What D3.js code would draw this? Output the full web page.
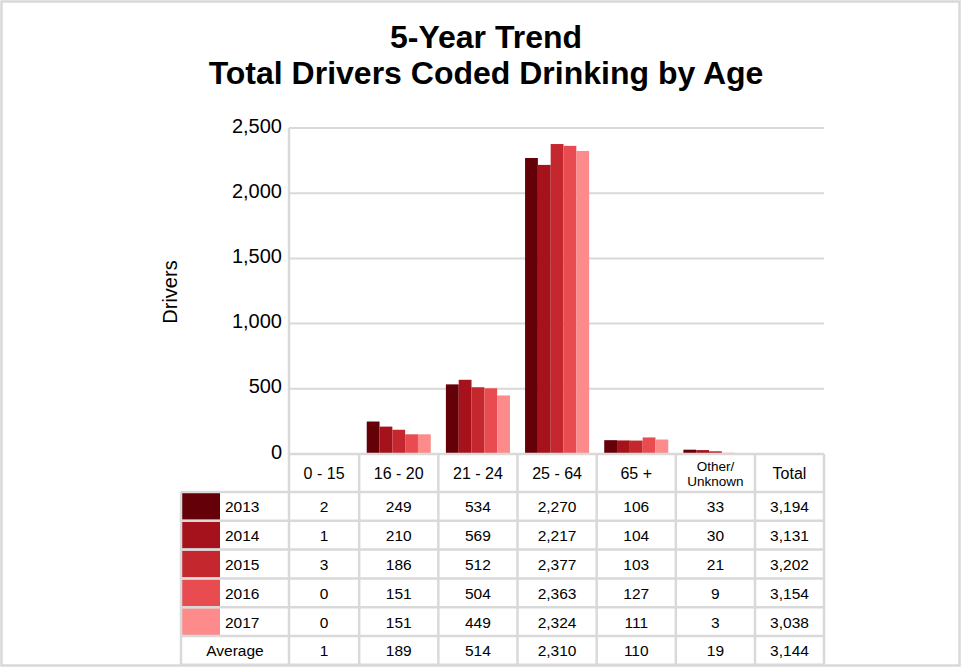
<!DOCTYPE html>
<html lang="en">
  <head>
    <meta charset="UTF-8" />
    <title>5-Year Trend</title>
    <script src="https://cdn.jsdelivr.net/npm/d3@7"></script>
    <style>
      body {
        margin: 0;
        background: #fff;
        font-family: "Liberation Sans", Arial, sans-serif;
      }
    </style>
  </head>
  <body>
    <script>
      const width = 961;
      const height = 667;

      const categories = ["0 - 15", "16 - 20", "21 - 24", "25 - 64", "65 +", "Other/Unknown"];
      const years = ["2013", "2014", "2015", "2016", "2017"];
      const values2013 = [2, 249, 534, 2270, 106, 33];
      const values2014 = [1, 210, 569, 2217, 104, 30];
      const values2015 = [3, 186, 512, 2377, 103, 21];
      const values2016 = [0, 151, 504, 2363, 127, 9];
      const values2017 = [0, 151, 449, 2324, 111, 3];
      const totals = [3194, 3131, 3202, 3154, 3038];
      const averages = [1, 189, 514, 2310, 110, 19];
      const averageTotal = 3144;
      const yTicks = [0, 500, 1000, 1500, 2000, 2500];
      const colors = ["#640007", "#a5121c", "#c5272e", "#e84c50", "#fd8b8b"];

      const series = [values2013, values2014, values2015, values2016, values2017].map((values, i) => ({
        year: years[i],
        values,
        total: totals[i],
        color: colors[i],
      }));

      const gridColor = "#d9d9d9";
      const fmt = d3.format(",");

      const svg = d3
        .select("body")
        .append("svg")
        .attr("width", width)
        .attr("height", height);

      // outer frame
      svg
        .append("rect")
        .attr("x", 1.5)
        .attr("y", 1.5)
        .attr("width", width - 3)
        .attr("height", height - 3)
        .attr("fill", "#fff")
        .attr("stroke", gridColor)
        .attr("stroke-width", 2.5);

      // title
      const title = svg
        .append("text")
        .attr("text-anchor", "middle")
        .attr("font-size", 32)
        .attr("font-weight", "bold")
        .attr("fill", "#000");
      title.append("tspan").attr("x", 486).attr("y", 48).text("5-Year Trend");
      title.append("tspan").attr("x", 486).attr("y", 84).text("Total Drivers Coded Drinking by Age");

      const plotLeft = 289;
      const plotRight = 824;
      const x = d3.scaleBand().domain(categories).range([280, 755]).paddingInner(0);
      const xYear = d3.scaleBand().domain(years).range([0, x.bandwidth()]).paddingOuter(0.59);
      const y = d3.scaleLinear().domain([0, 2500]).range([454, 128]);

      // gridlines
      svg
        .append("g")
        .selectAll("line")
        .data(yTicks)
        .join("line")
        .attr("x1", plotLeft)
        .attr("x2", plotRight)
        .attr("y1", (d) => y(d))
        .attr("y2", (d) => y(d))
        .attr("stroke", gridColor)
        .attr("stroke-width", 2);

      // y axis labels
      const yAxis = svg
        .append("g")
        .attr("transform", `translate(${plotLeft - 7},0)`)
        .call(d3.axisLeft(y).tickValues(yTicks).tickFormat(fmt).tickSize(0).tickPadding(0));
      yAxis.select(".domain").remove();
      yAxis
        .selectAll("text")
        .attr("font-family", "Liberation Sans, Arial, sans-serif")
        .attr("font-size", 20)
        .attr("fill", "#000")
        .attr("dy", "0.2em");

      svg
        .append("text")
        .attr("transform", "translate(177,292) rotate(-90)")
        .attr("text-anchor", "middle")
        .attr("font-size", 20)
        .attr("fill", "#000")
        .text("Drivers");

      // bars
      const groups = svg
        .append("g")
        .selectAll("g")
        .data(series)
        .join("g")
        .attr("fill", (d) => d.color);
      groups
        .selectAll("rect")
        .data((s) => s.values.map((v, j) => ({ year: s.year, cat: categories[j], v })))
        .join("rect")
        .attr("x", (d) => x(d.cat) + xYear(d.year))
        .attr("width", xYear.bandwidth())
        .attr("y", (d) => y(d.v))
        .attr("height", (d) => y(0) - y(d.v));

      // data table
      const headerTop = 454;
      const rowTop = 492;
      const rowH = 28.8;
      const rowCount = years.length + 1;
      const tableBottom = rowTop + rowCount * rowH;
      const legendLeft = 181;
      const colEdges = [plotLeft, ...categories.slice(1).map((c) => x(c)), 755, plotRight];
      const cols = categories.concat(["Total"]).map((c, i) => ({
        name: c,
        x0: colEdges[i],
        x1: colEdges[i + 1],
        cx: (colEdges[i] + colEdges[i + 1]) / 2,
      }));

      const table = svg.append("g");

      // legend swatches
      table
        .selectAll("rect.swatch")
        .data(series)
        .join("rect")
        .attr("class", "swatch")
        .attr("x", legendLeft + 1)
        .attr("y", (d, i) => rowTop + i * rowH + 1)
        .attr("width", 38)
        .attr("height", rowH - 2)
        .attr("fill", (d) => d.color);

      // horizontal rules
      const hRules = [{ y: headerTop, x0: plotLeft }, { y: rowTop, x0: legendLeft }];
      for (let i = 1; i <= rowCount; i++) hRules.push({ y: rowTop + i * rowH, x0: legendLeft });
      table
        .selectAll("line.h")
        .data(hRules)
        .join("line")
        .attr("class", "h")
        .attr("x1", (d) => d.x0)
        .attr("x2", plotRight)
        .attr("y1", (d) => d.y)
        .attr("y2", (d) => d.y)
        .attr("stroke", gridColor)
        .attr("stroke-width", 2.5);

      // vertical rules
      const vRules = [{ x: legendLeft, y0: rowTop }, { x: plotLeft, y0: y(2500) }];
      colEdges.slice(1).forEach((e) => vRules.push({ x: e, y0: headerTop }));
      table
        .selectAll("line.v")
        .data(vRules)
        .join("line")
        .attr("class", "v")
        .attr("x1", (d) => d.x)
        .attr("x2", (d) => d.x)
        .attr("y1", (d) => d.y0)
        .attr("y2", tableBottom)
        .attr("stroke", gridColor)
        .attr("stroke-width", 2.5);

      // header labels
      const header = table
        .selectAll("text.head")
        .data(cols)
        .join("text")
        .attr("class", "head")
        .attr("text-anchor", "middle")
        .attr("fill", "#000");
      header
        .filter((d) => d.name !== "Other/Unknown")
        .attr("x", (d) => d.cx)
        .attr("y", headerTop + 25)
        .attr("font-size", 16)
        .text((d) => d.name);
      const other = header.filter((d) => d.name === "Other/Unknown").attr("font-size", 13.5);
      other.append("tspan").attr("x", (d) => d.cx).attr("y", headerTop + 17).text("Other/");
      other.append("tspan").attr("x", (d) => d.cx).attr("y", headerTop + 32).text("Unknown");

      // year rows
      series.forEach((s, i) => {
        const ty = rowTop + i * rowH + rowH / 2 + 6;
        table
          .append("text")
          .attr("x", 225)
          .attr("y", ty)
          .attr("font-size", 15.5)
          .attr("fill", "#000")
          .text(s.year);
        table
          .selectAll(null)
          .data(s.values.concat([s.total]))
          .join("text")
          .attr("x", (d, j) => cols[j].cx)
          .attr("y", ty)
          .attr("text-anchor", "middle")
          .attr("font-size", 15.5)
          .attr("fill", "#000")
          .text((d) => fmt(d));
      });

      // average row
      const ay = rowTop + years.length * rowH + rowH / 2 + 6;
      table
        .append("text")
        .attr("x", (legendLeft + plotLeft) / 2)
        .attr("y", ay)
        .attr("text-anchor", "middle")
        .attr("font-size", 15.5)
        .attr("fill", "#000")
        .text("Average");
      table
        .selectAll(null)
        .data(averages.concat([averageTotal]))
        .join("text")
        .attr("x", (d, j) => cols[j].cx)
        .attr("y", ay)
        .attr("text-anchor", "middle")
        .attr("font-size", 15.5)
        .attr("fill", "#000")
        .text((d) => fmt(d));
    </script>
  </body>
</html>
